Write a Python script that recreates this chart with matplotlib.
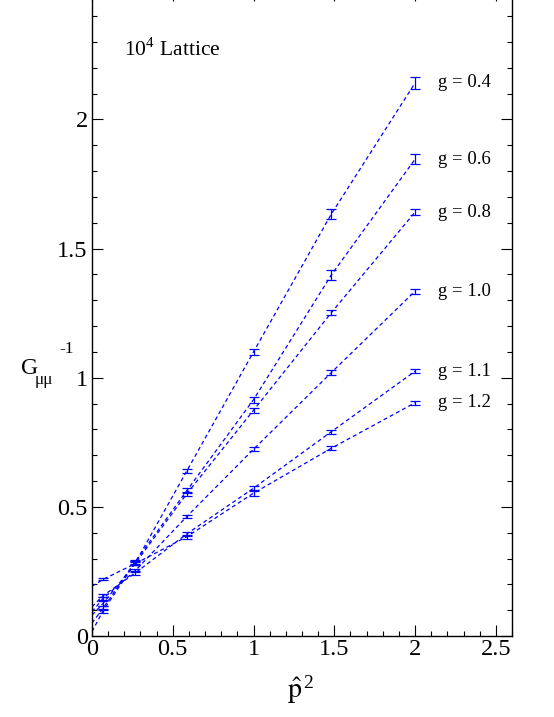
import numpy as np
import matplotlib
matplotlib.use('Agg')
import matplotlib.pyplot as plt
from matplotlib.ticker import MultipleLocator

plt.rcParams['font.family'] = ['Liberation Serif', 'DejaVu Serif']
plt.rcParams['mathtext.fontset'] = 'stix'

# momenta p^2 where the propagator was measured
p2 = [0.068, 0.268, 0.586, 1.0, 1.482, 2.0]

couplings = ['0.4', '0.6', '0.8', '1.0', '1.1', '1.2']

# G^-1 values at each p2, one list per coupling
g04 = [0.097, 0.283, 0.638, 1.100, 1.634, 2.141]
g06 = [0.107, 0.288, 0.562, 0.915, 1.398, 1.846]
g08 = [0.126, 0.281, 0.550, 0.874, 1.252, 1.641]
g10 = [0.145, 0.253, 0.462, 0.723, 1.020, 1.335]
g11 = [0.156, 0.244, 0.395, 0.572, 0.791, 1.025]
g12 = [0.219, 0.280, 0.384, 0.553, 0.727, 0.903]

# errors
e04 = [0.008, 0.008, 0.008, 0.012, 0.020, 0.024]
e06 = [0.008, 0.008, 0.010, 0.012, 0.018, 0.019]
e08 = [0.008, 0.008, 0.008, 0.010, 0.010, 0.012]
e10 = [0.006, 0.006, 0.006, 0.008, 0.008, 0.010]
e11 = [0.006, 0.006, 0.006, 0.008, 0.008, 0.008]
e12 = [0.004, 0.006, 0.008, 0.010, 0.008, 0.008]

# extrapolated values at p2 = 0 (start of dashed curves)
intercepts = [0.017, 0.050, 0.081, 0.094, 0.113, 0.193]

series = [g04, g06, g08, g10, g11, g12]
errors = [e04, e06, e08, e10, e11, e12]

blue = '#0000ff'

fig = plt.figure(figsize=(5.54, 7.17), dpi=100)
# top of the frame sits just above the picture, like in the original
ax = fig.add_axes([92/554, 81/717, 420/554, (717 - 81 + 9.8)/717])

for g, y, e, c in zip(couplings, series, errors, intercepts):
    ax.plot([0] + p2, [c] + y, color=blue, lw=0.9, linestyle=(0, (3.2, 2.4)))
    ax.errorbar(p2, y, yerr=e, fmt='none', ecolor=blue, elinewidth=0.9,
                capsize=3.4, capthick=0.9)
    ax.text(2.14, y[-1], 'g = ' + g, fontsize=13.5, va='center', ha='left')

ax.text(0.2, 2.27, r'10$^{\mathregular{4}}$ Lattice', fontsize=15.5, va='center', ha='left')

ax.set_xlim(0, 2.6)
ax.set_ylim(0, 2.5)
ax.xaxis.set_major_locator(MultipleLocator(0.5))
ax.xaxis.set_minor_locator(MultipleLocator(0.1))
ax.yaxis.set_major_locator(MultipleLocator(0.5))
ax.yaxis.set_minor_locator(MultipleLocator(0.1))
ax.xaxis.set_major_formatter(plt.FuncFormatter(lambda v, pos: ('%g' % v)))
# 2.5 label falls outside the picture
ax.yaxis.set_major_formatter(plt.FuncFormatter(lambda v, pos: ('%g' % v) if v < 2.4 else ''))
ax.tick_params(which='both', direction='in', top=True, right=True, width=0.8)
ax.tick_params(which='major', length=7.7, labelsize=17.5, pad=3)
ax.tick_params(axis='x', which='major', pad=2)
ax.tick_params(which='minor', length=3.8)
for s in ax.spines.values():
    s.set_linewidth(1.0)

fig.text(301/554, 1 - 689/717, r'$\hat{\mathrm{p}}^{\,\mathregular{2}}$', fontsize=20,
         ha='center', va='center')

# y label built from pieces: G, subscript, superscript
fig.text(21/554, 1 - 368/717, 'G', fontsize=17, ha='left', va='center')
fig.text(35/554, 1 - 380/717, 'μμ', fontsize=12.5, ha='left', va='center')
fig.text(59/554, 1 - 349/717, '-1', fontsize=12.5, ha='left', va='center')

fig.savefig('out.png', dpi=100)
